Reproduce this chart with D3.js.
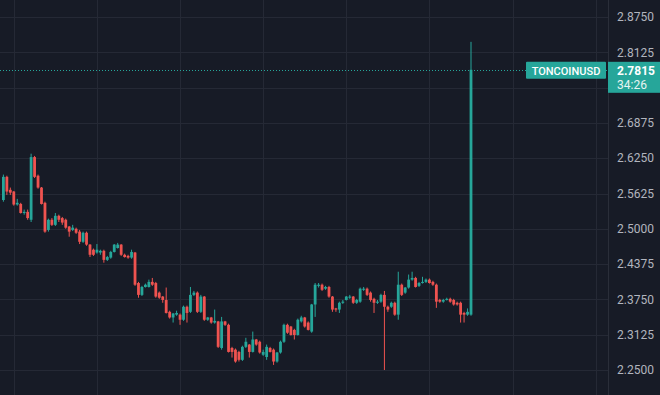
<!DOCTYPE html>
<html>
<head>
<meta charset="utf-8">
<script src="https://cdn.jsdelivr.net/npm/d3@7"></script>
<style>
  html, body { margin: 0; padding: 0; background: #171b26; }
  svg { display: block; }
</style>
</head>
<body>
<svg id="chart" width="660" height="395"></svg>
<script>
// hourly candles, TONCOINUSD
var open = [2.551,2.592,2.569,2.566,2.543,2.544,2.528,2.530,2.516,2.627,2.594,2.573,2.546,2.498,2.516,2.507,2.523,2.519,2.516,2.504,
  2.498,2.500,2.495,2.477,2.493,2.472,2.463,2.458,2.458,2.461,2.445,2.449,2.459,2.466,2.472,2.454,2.452,2.449,2.458,2.404,
  2.383,2.397,2.397,2.406,2.404,2.387,2.380,2.374,2.353,2.343,2.348,2.348,2.339,2.362,2.353,2.383,2.387,2.353,2.380,2.339,
  2.343,2.334,2.336,2.289,2.336,2.330,2.289,2.286,2.282,2.268,2.291,2.295,2.282,2.304,2.300,2.277,2.273,2.289,2.286,2.265,
  2.281,2.300,2.330,2.327,2.321,2.312,2.336,2.343,2.334,2.318,2.366,2.399,2.401,2.394,2.397,2.380,2.359,2.357,2.369,2.374,
  2.378,2.380,2.369,2.371,2.392,2.394,2.387,2.376,2.369,2.371,2.383,2.362,2.362,2.369,2.348,2.401,2.387,2.396,2.410,2.413,
  2.399,2.404,2.406,2.410,2.406,2.401,2.374,2.371,2.374,2.376,2.374,2.369,2.369,2.351,2.348,2.348];
var high = [2.596,2.594,2.573,2.567,2.553,2.546,2.534,2.534,2.633,2.629,2.596,2.574,2.548,2.518,2.519,2.528,2.525,2.521,2.518,2.505,
  2.507,2.502,2.498,2.495,2.495,2.473,2.465,2.473,2.463,2.463,2.452,2.461,2.473,2.475,2.473,2.456,2.454,2.463,2.459,2.406,
  2.399,2.403,2.410,2.413,2.406,2.389,2.381,2.396,2.355,2.351,2.355,2.350,2.364,2.364,2.397,2.390,2.389,2.383,2.381,2.344,
  2.344,2.357,2.337,2.344,2.337,2.332,2.291,2.288,2.284,2.293,2.307,2.296,2.318,2.305,2.302,2.286,2.295,2.291,2.288,2.282,
  2.302,2.332,2.332,2.328,2.323,2.341,2.346,2.344,2.336,2.367,2.404,2.404,2.403,2.399,2.399,2.381,2.360,2.371,2.374,2.381,
  2.383,2.381,2.376,2.396,2.397,2.396,2.389,2.378,2.374,2.385,2.390,2.364,2.371,2.371,2.424,2.403,2.397,2.419,2.424,2.415,
  2.406,2.415,2.412,2.412,2.408,2.403,2.376,2.376,2.378,2.378,2.376,2.371,2.371,2.353,2.359,2.831];
var low = [2.548,2.560,2.560,2.541,2.541,2.527,2.525,2.516,2.512,2.590,2.571,2.543,2.493,2.495,2.505,2.505,2.512,2.507,2.500,2.486,
  2.496,2.491,2.473,2.475,2.470,2.450,2.452,2.456,2.454,2.440,2.443,2.447,2.458,2.465,2.452,2.449,2.447,2.447,2.399,2.378,
  2.381,2.396,2.396,2.399,2.378,2.376,2.369,2.350,2.341,2.334,2.346,2.330,2.337,2.334,2.351,2.381,2.351,2.351,2.337,2.337,
  2.332,2.332,2.289,2.286,2.328,2.281,2.272,2.263,2.265,2.266,2.289,2.272,2.281,2.293,2.279,2.275,2.268,2.281,2.259,2.263,
  2.279,2.298,2.314,2.311,2.304,2.311,2.334,2.325,2.320,2.316,2.344,2.396,2.390,2.392,2.378,2.353,2.353,2.351,2.367,2.373,
  2.376,2.367,2.367,2.369,2.390,2.381,2.371,2.351,2.367,2.369,2.250,2.353,2.360,2.346,2.339,2.381,2.385,2.394,2.408,2.396,
  2.397,2.403,2.404,2.403,2.399,2.360,2.369,2.369,2.373,2.369,2.364,2.364,2.334,2.334,2.346,2.346];
var close = [2.592,2.566,2.564,2.543,2.546,2.528,2.530,2.519,2.627,2.592,2.573,2.544,2.495,2.516,2.507,2.523,2.516,2.511,2.502,2.495,
  2.502,2.493,2.477,2.493,2.472,2.454,2.454,2.463,2.461,2.445,2.450,2.459,2.472,2.472,2.454,2.450,2.449,2.459,2.401,2.383,
  2.397,2.401,2.406,2.401,2.380,2.378,2.374,2.351,2.343,2.350,2.351,2.339,2.362,2.351,2.383,2.387,2.353,2.380,2.339,2.343,
  2.334,2.337,2.291,2.336,2.330,2.282,2.282,2.265,2.268,2.291,2.300,2.282,2.304,2.295,2.281,2.282,2.291,2.282,2.265,2.281,
  2.300,2.330,2.316,2.312,2.312,2.339,2.343,2.327,2.321,2.366,2.401,2.401,2.392,2.397,2.380,2.357,2.357,2.369,2.371,2.380,
  2.380,2.369,2.374,2.394,2.394,2.383,2.374,2.369,2.371,2.383,2.362,2.357,2.369,2.348,2.401,2.383,2.396,2.410,2.413,2.397,
  2.404,2.406,2.410,2.404,2.401,2.371,2.371,2.374,2.376,2.371,2.366,2.366,2.348,2.348,2.353,2.7815];

var priceTicks = [2.25, 2.3125, 2.375, 2.4375, 2.5, 2.5625, 2.625, 2.6875, 2.75, 2.8125, 2.875];
var dayLines = [3, 27, 51, 75, 99, 123, 147, 171]; // candle index of each day start
var symbol = "TONCOINUSD";
var lastPrice = 2.7815;
var countdown = "34:26";

var W = 660, H = 395, axisX = 608;
var up = "#26a69a", down = "#ef5350";

var svg = d3.select("#chart");
var x = d3.scaleLinear().domain([0, open.length - 1]).range([3.4, 471]);
var y = d3.scaleLinear().domain([2.25, 2.875]).range([370, 17]);

svg.append("rect").attr("width", W).attr("height", H).attr("fill", "#171b26");

// grid
var grid = svg.append("g").attr("stroke", "#252935").attr("stroke-width", 1);
grid.selectAll("line.h").data(priceTicks).join("line")
  .attr("class", "h")
  .attr("x1", 0).attr("x2", axisX)
  .attr("y1", function (d) { return Math.round(y(d)) + 0.5; })
  .attr("y2", function (d) { return Math.round(y(d)) + 0.5; });
grid.selectAll("line.v").data(dayLines).join("line")
  .attr("class", "v")
  .attr("y1", 0).attr("y2", H)
  .attr("x1", function (d) { return Math.round(x(d)) + 0.5; })
  .attr("x2", function (d) { return Math.round(x(d)) + 0.5; });

// candles
var candles = d3.range(open.length).map(function (i) {
  return { i: i, o: open[i], h: high[i], l: low[i], c: close[i] };
});
var g = svg.append("g");
g.selectAll("line.wick").data(candles).join("line")
  .attr("class", "wick")
  .attr("x1", function (d) { return x(d.i); })
  .attr("x2", function (d) { return x(d.i); })
  .attr("y1", function (d) { return y(d.h); })
  .attr("y2", function (d) { return y(d.l); })
  .attr("stroke", function (d) { return d.c >= d.o ? up : down; })
  .attr("stroke-width", 1);
g.selectAll("rect.body").data(candles).join("rect")
  .attr("class", "body")
  .attr("x", function (d) { return x(d.i) - 1.4; })
  .attr("width", 2.8)
  .attr("y", function (d) { return y(Math.max(d.o, d.c)); })
  .attr("height", function (d) { return Math.max(1, Math.abs(y(d.o) - y(d.c))); })
  .attr("fill", function (d) { return d.c >= d.o ? up : down; });

// last price line
var ly = Math.round(y(lastPrice)) + 0.5;
svg.append("line")
  .attr("x1", 0).attr("x2", axisX)
  .attr("y1", ly).attr("y2", ly)
  .attr("stroke", up).attr("stroke-width", 1)
  .attr("stroke-dasharray", "1,2");

// last price tag box on the axis
var tagTop = y(lastPrice) - 8, tagH = 31;

// price axis (labels hidden under the last price tag are skipped)
svg.append("line")
  .attr("x1", axisX + 0.5).attr("x2", axisX + 0.5)
  .attr("y1", 0).attr("y2", H)
  .attr("stroke", "#2a2e39");
svg.append("g").selectAll("text")
  .data(priceTicks.filter(function (d) {
    return y(d) < tagTop - 5 || y(d) > tagTop + tagH + 5;
  }))
  .join("text")
  .attr("x", 617)
  .attr("y", function (d) { return y(d); })
  .attr("dy", "0.35em")
  .attr("fill", "#b2b5be")
  .style("font", "12px Roboto, sans-serif")
  .text(function (d) { return d.toFixed(4); });

// symbol tag
svg.append("rect")
  .attr("x", 526).attr("y", tagTop).attr("width", 80).attr("height", 17)
  .attr("rx", 1).attr("fill", up);
svg.append("text")
  .attr("x", 566).attr("y", tagTop + 13)
  .attr("text-anchor", "middle")
  .attr("fill", "#ffffff")
  .style("font", "500 11px Roboto, sans-serif")
  .text(symbol);

// last price tag
svg.append("rect")
  .attr("x", axisX).attr("y", tagTop).attr("width", W - axisX).attr("height", tagH)
  .attr("fill", up);
svg.append("text")
  .attr("x", 617).attr("y", tagTop + 13)
  .attr("fill", "#ffffff")
  .style("font", "bold 12px Roboto, sans-serif")
  .text(lastPrice.toFixed(4));
svg.append("text")
  .attr("x", 617).attr("y", tagTop + 27.5)
  .attr("fill", "#e6f4f2")
  .style("font", "12px Roboto, sans-serif")
  .text(countdown);
</script>
</body>
</html>
